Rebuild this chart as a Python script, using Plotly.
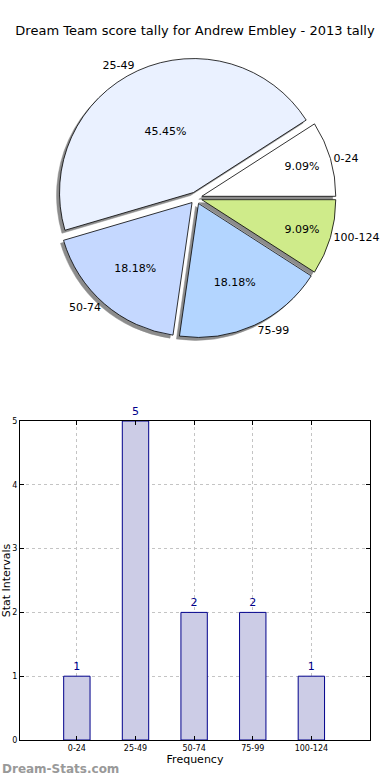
import plotly.graph_objects as go

categories = ["0-24", "25-49", "50-74", "75-99", "100-124"]
counts = [1, 5, 2, 2, 1]
pie_colors = ["#FFFFFF", "#EAF1FF", "#C5D8FF", "#B3D5FF", "#CFEB8A"]
y_ticks = [0, 1, 2, 3, 4, 5]

title_text = "Dream Team score tally for Andrew Embley - 2013 tally"
font_family = "DejaVu Sans"

W, H = 390, 780


def px(x):
    return x / W


def py(y):
    return 1 - y / H


pull = [0.045] * len(categories)
# first slice starts at 3 o'clock going counter-clockwise
rotation = 90 - 360 * counts[0] / sum(counts)

cx, cy, half = 196, 198, 140
pie_x = [px(cx - half), px(cx + half)]
pie_y = [py(cy + half), py(cy - half)]
sdx, sdy = -3 / W, -3 / H

fig = go.Figure()

common = dict(labels=categories, values=counts, sort=False,
              direction="counterclockwise", rotation=rotation, pull=pull,
              hoverinfo="skip", showlegend=False)

# shadow
fig.add_trace(go.Pie(
    **common, textinfo="none",
    marker=dict(colors=["#8c8c8c"] * 5, line=dict(color="#8c8c8c", width=0.5)),
    domain=dict(x=[pie_x[0] + sdx, pie_x[1] + sdx], y=[pie_y[0] + sdy, pie_y[1] + sdy]),
))
# main pie
fig.add_trace(go.Pie(
    **common, textinfo="percent", texttemplate="%{percent:.2%}",
    textposition="inside", insidetextorientation="horizontal",
    textfont=dict(family=font_family, size=11, color="black"),
    marker=dict(colors=pie_colors, line=dict(color="black", width=0.8)),
    domain=dict(x=pie_x, y=pie_y),
))
# outer labels
fig.add_trace(go.Pie(
    **common, textinfo="label", textposition="outside",
    textfont=dict(family=font_family, size=11, color="black"),
    marker=dict(colors=["rgba(0,0,0,0)"] * 5, line=dict(width=0)),
    domain=dict(x=pie_x, y=pie_y), automargin=False,
))

# bar chart
fig.add_trace(go.Bar(
    x=categories, y=counts, width=0.45,
    marker=dict(color="#CCCCE6", line=dict(color="#00008B", width=1)),
    text=[str(c) for c in counts], textposition="outside",
    textfont=dict(family=font_family, size=11, color="#00008B"),
    cliponaxis=False, hoverinfo="skip", showlegend=False,
    xaxis="x", yaxis="y",
))

fig.update_layout(
    width=W, height=H,
    margin=dict(l=0, r=0, t=0, b=0),
    paper_bgcolor="white", plot_bgcolor="white",
    font=dict(family=font_family, color="black"),
    title=dict(text=title_text, x=px(195), xanchor="center", y=py(30), yanchor="middle",
               font=dict(family=font_family, size=13, color="black")),
    xaxis=dict(
        domain=[px(20), px(370)], range=[-0.97, 5.0], type="category",
        showline=True, linecolor="black", linewidth=1, mirror="ticks",
        ticks="inside", ticklen=4, tickcolor="black",
        showgrid=True, gridcolor="#c4c4c4", griddash="dot", gridwidth=1,
        tickfont=dict(family=font_family, size=8, color="black"),
        title=dict(text="Frequency", font=dict(family=font_family, size=11), standoff=2),
        automargin=False, zeroline=False,
    ),
    yaxis=dict(
        domain=[py(740), py(421)], range=[0, 5], tickvals=y_ticks,
        showline=True, linecolor="black", linewidth=1, mirror="ticks",
        ticks="inside", ticklen=4, tickcolor="black",
        showgrid=True, gridcolor="#c4c4c4", griddash="dot", gridwidth=1,
        tickfont=dict(family=font_family, size=8, color="black"),
        title=dict(text="Stat Intervals", font=dict(family=font_family, size=11), standoff=0),
        automargin=False, zeroline=False,
    ),
    annotations=[dict(
        text="<b>Dream-Stats.com</b>", xref="paper", yref="paper",
        x=0, y=py(769), xanchor="left", yanchor="middle", showarrow=False,
        font=dict(family=font_family, size=12, color="#999999"),
    )],
)

fig.write_html("out.html", config={"displayModeBar": False},
               post_script="document.body.style.margin='0';")
